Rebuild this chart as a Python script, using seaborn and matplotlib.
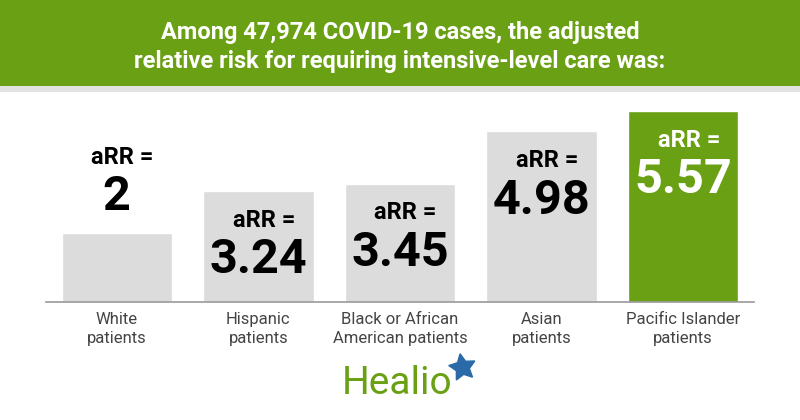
import matplotlib
matplotlib.use("Agg")
import matplotlib.pyplot as plt
import seaborn as sns
from matplotlib.patches import Rectangle

sns.set_style("white")
plt.rcParams['font.family'] = ['Roboto', 'DejaVu Sans']

categories = ["White\npatients", "Hispanic\npatients", "Black or African\nAmerican patients",
              "Asian\npatients", "Pacific Islander\npatients"]
values = [2, 3.24, 3.45, 4.98, 5.57]
value_labels = ["2", "3.24", "3.45", "4.98", "5.57"]
title_lines = "Among 47,974 COVID-19 cases, the adjusted\nrelative risk for requiring intensive-level care was:"

GREEN = "#6aa013"
GREY = "#dcdcdc"
bar_colors = [GREY, GREY, GREY, GREY, GREEN]

W, H = 800, 420
fig = plt.figure(figsize=(8, 4.2), dpi=100)
fig.patch.set_facecolor("white")

# header band
fig.patches.append(Rectangle((0, 1 - 86 / H), 1, 86 / H, transform=fig.transFigure,
                             facecolor=GREEN, edgecolor="none", zorder=0))
fig.patches.append(Rectangle((0, 1 - 92 / H), 1, 6 / H, transform=fig.transFigure,
                             facecolor="#e2e2e2", edgecolor="none", zorder=0))
fig.text(0.5, 1 - 47 / H, title_lines, ha="center", va="center", color="white",
         fontsize=17, fontweight="bold", linespacing=1.3)

# axes: x from 46 to 754 px, y from 100 to 302 px
ax = fig.add_axes([46 / W, (H - 302) / H, 708 / W, 202 / H])
ax.set_facecolor("none")
sns.barplot(x=categories, y=values, hue=categories, palette=bar_colors, width=0.78,
            saturation=1, legend=False, ax=ax)
ax.set_xlim(-0.5, 4.5)
ax.set_ylim(0, 202 / 34.3)

for i, (v, lab) in enumerate(zip(values, value_labels)):
    if i == 0:
        off_a, off_v, col = 55, 26, "black"
    else:
        off_a, off_v, col = -21, -50, ("white" if i == 4 else "black")
    ax.annotate("aRR =", (i, v), xytext=(4, off_a), textcoords="offset points",
                ha="center", va="center", fontsize=17, fontweight="bold", color=col)
    ax.annotate(lab, (i, v), xytext=(0, off_v), textcoords="offset points",
                ha="center", va="center", fontsize=35, fontweight="bold", color=col)

for s in ["top", "right", "left"]:
    ax.spines[s].set_visible(False)
ax.spines["bottom"].set_color("#9a9a9a")
ax.spines["bottom"].set_linewidth(1.2)
ax.set_yticks([])
ax.set_ylabel("")
ax.tick_params(axis="x", length=0, pad=7, labelsize=12, labelcolor="#444444")
for t in ax.get_xticklabels():
    t.set_linespacing(1.35)

# logo
fig.text(397 / W, 1 - 383 / H, "Healio", ha="center", va="center", color=GREEN,
         fontsize=28, family=['Roboto', 'DejaVu Sans'])
fig.lines.append(plt.Line2D([462 / W], [1 - 367 / H], transform=fig.transFigure,
                            marker=(5, 1, 10), markersize=20, color="#2a6aa8", linestyle="none"))

fig.savefig("out.png", dpi=100)
